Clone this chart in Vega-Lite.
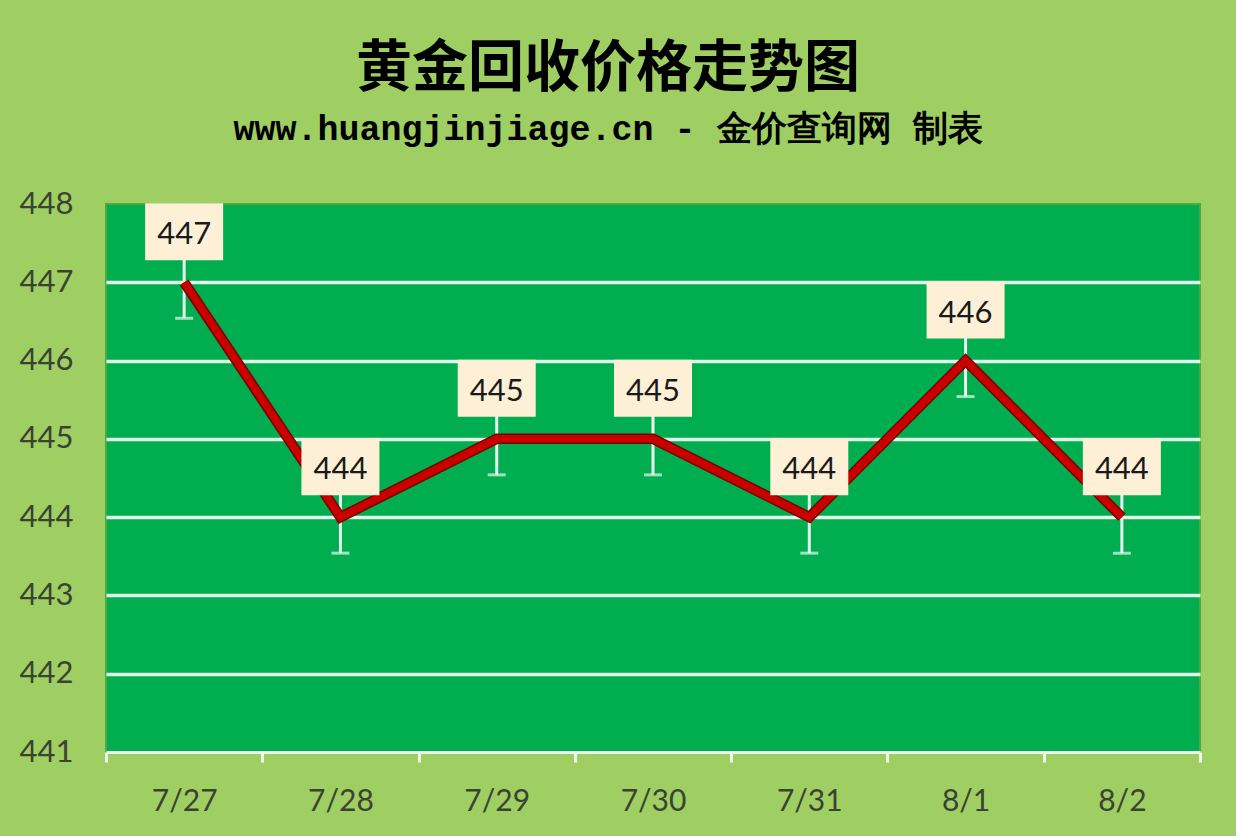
{
  "$schema": "https://vega.github.io/schema/vega-lite/v6.json",
  "autosize": "none",
  "width": 1094,
  "height": 548,
  "padding": {"left": 106, "top": 204, "right": 36, "bottom": 84},
  "background": "#9fcf62",
  "title": {
    "text": "黄金回收价格走势图",
    "subtitle": "www.huangjinjiage.cn - 金价查询网 制表",
    "font": "Noto Sans CJK SC",
    "fontSize": 56,
    "fontWeight": "bold",
    "color": "#000000",
    "subtitleFont": "Liberation Mono",
    "subtitleFontSize": 35,
    "subtitleFontWeight": "bold",
    "subtitleColor": "#000000",
    "subtitlePadding": 14,
    "anchor": "middle",
    "frame": "group",
    "dx": -45,
    "offset": 40
  },
  "config": {
    "view": {"fill": "#00ad4f", "stroke": "#4fa845", "strokeWidth": 2}
  },
  "data": {
    "values": [
      {"date": "7/27", "price": 447},
      {"date": "7/28", "price": 444},
      {"date": "7/29", "price": 445},
      {"date": "7/30", "price": 445},
      {"date": "7/31", "price": 444},
      {"date": "8/1", "price": 446},
      {"date": "8/2", "price": 444}
    ]
  },
  "encoding": {
    "x": {
      "field": "date",
      "type": "ordinal",
      "sort": null,
      "scale": {"paddingInner": 0, "paddingOuter": 0},
      "axis": {
        "title": null,
        "labelAngle": 0,
        "labelFont": "Lato",
        "labelFontSize": 30,
        "labelColor": "#3a4234",
        "labelPadding": 24,
        "domainColor": "#eef8ee",
        "domainWidth": 3,
        "tickColor": "#eef8ee",
        "tickWidth": 3,
        "tickSize": 10,
        "tickBand": "extent",
        "grid": false
      }
    },
    "y": {
      "field": "price",
      "type": "quantitative",
      "scale": {"domain": [441, 448], "nice": false, "zero": false},
      "axis": {
        "title": null,
        "values": [441, 442, 443, 444, 445, 446, 447, 448],
        "labelFont": "Lato",
        "labelFontSize": 31,
        "labelColor": "#3a4234",
        "labelPadding": 33,
        "domain": false,
        "ticks": false,
        "grid": true,
        "gridColor": {"condition": {"test": "datum.value == 448 || datum.value == 441", "value": "transparent"}, "value": "#e2f6e8"},
        "gridWidth": 3.5
      }
    }
  },
  "layer": [
    {
      "mark": {"type": "rule", "color": "#e6f8ee", "strokeWidth": 3, "yOffset": 36, "y2Offset": -30},
      "encoding": {"y2": {"field": "price"}}
    },
    {
      "mark": {"type": "tick", "color": "#e6f8ee", "size": 18, "thickness": 3, "yOffset": 36}
    },
    {
      "mark": {"type": "line", "color": "#7a0000", "strokeWidth": 10.5}
    },
    {
      "mark": {"type": "line", "color": "#c80000", "strokeWidth": 7.5}
    },
    {
      "mark": {"type": "bar", "width": 78, "color": "#fdf0d6", "yOffset": -79, "y2Offset": -22},
      "encoding": {"y2": {"field": "price"}}
    },
    {
      "mark": {"type": "text", "font": "Lato", "fontSize": 31, "color": "#1a1a1a", "dy": -47, "baseline": "middle"},
      "encoding": {"text": {"field": "price", "type": "quantitative"}}
    }
  ]
}
